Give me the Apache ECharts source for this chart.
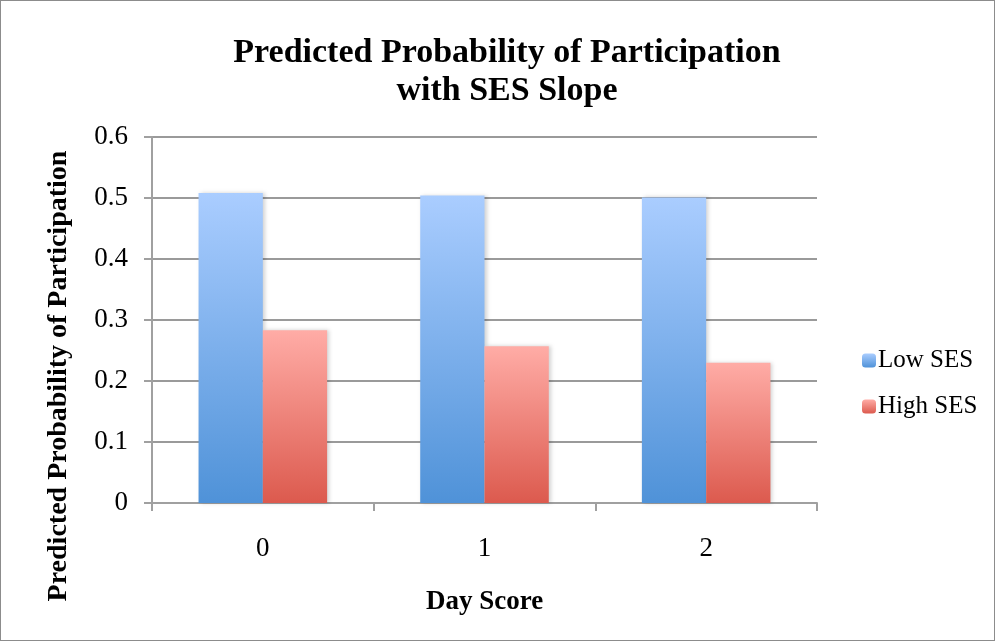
<!DOCTYPE html>
<html><head><meta charset="utf-8">
<script src="https://cdn.jsdelivr.net/npm/echarts@6/dist/echarts.min.js"></script>
<style>html,body{margin:0;padding:0;background:#fff}#c{width:995px;height:641px;box-sizing:border-box;border:1px solid #8c8c8c}</style>
</head><body><div id="c"></div>
<script>
const categories = ['0','1','2'];
const lowSES = [0.508, 0.504, 0.501];
const highSES = [0.283, 0.257, 0.230];
const yTicks = [0, 0.1, 0.2, 0.3, 0.4, 0.5, 0.6];
const yAxisTitle = 'Predicted Probability of Participation';

const chart = echarts.init(document.getElementById('c'));
const FONT = '"Liberation Serif", "DejaVu Serif", serif';
function grad(top, bottom){
  return new echarts.graphic.LinearGradient(0,0,0,1,[{offset:0,color:top},{offset:1,color:bottom}]);
}
chart.setOption({
  animation:false,
  title:{text:'Predicted Probability of Participation\nwith SES Slope',left:501,textAlign:'center',top:28,
    textStyle:{fontFamily:FONT,fontWeight:'bold',fontSize:34,lineHeight:38,color:'#000'}},
  grid:{left:151,right:177,top:136,bottom:137,containLabel:false},
  legend:{orient:'vertical',left:856,top:342,itemGap:21,itemWidth:14,itemHeight:14,
    textStyle:{fontFamily:FONT,fontSize:25,color:'#000',padding:[0,0,0,-3]},
    data:['Low SES','High SES']},
  graphic:[{type:'text',x:58,y:375,rotation:Math.PI/2,
    style:{text:yAxisTitle,fontFamily:FONT,fontWeight:'bold',fontSize:28,fill:'#000',
      align:'center',verticalAlign:'middle'}}],
  xAxis:{type:'category',data:categories,
    name:'Day Score',nameLocation:'middle',nameGap:86,
    nameTextStyle:{fontFamily:FONT,fontWeight:'bold',fontSize:27,color:'#000'},
    axisLine:{lineStyle:{color:'#a0a0a0',width:2}},
    axisTick:{show:true,length:8,lineStyle:{color:'#a0a0a0',width:2}},
    axisLabel:{fontFamily:FONT,fontSize:27,color:'#000',margin:32}},
  yAxis:{type:'value',min:0,max:0.6,interval:0.1,
    axisLine:{show:true,lineStyle:{color:'#a0a0a0',width:2}},
    axisTick:{show:true,length:8,lineStyle:{color:'#a0a0a0',width:2}},
    splitLine:{lineStyle:{color:'#9a9a9a',width:2}},
    axisLabel:{fontFamily:FONT,fontSize:27,color:'#000',margin:24,
      formatter:v=>{const t=yTicks.find(x=>Math.abs(x-v)<1e-9);return t===0?'0':String(t);}}},
  series:[
    {name:'Low SES',type:'bar',data:lowSES,barGap:'0%',barCategoryGap:'42%',
      itemStyle:{color:grad('#aacdff','#4f92d8'),shadowColor:'rgba(0,0,0,0.18)',shadowBlur:4,shadowOffsetX:2}},
    {name:'High SES',type:'bar',data:highSES,barGap:'0%',barCategoryGap:'42%',
      itemStyle:{color:grad('#ffaca6','#dc5a4e'),shadowColor:'rgba(0,0,0,0.18)',shadowBlur:4,shadowOffsetX:2}}
  ]
});
</script></body></html>
